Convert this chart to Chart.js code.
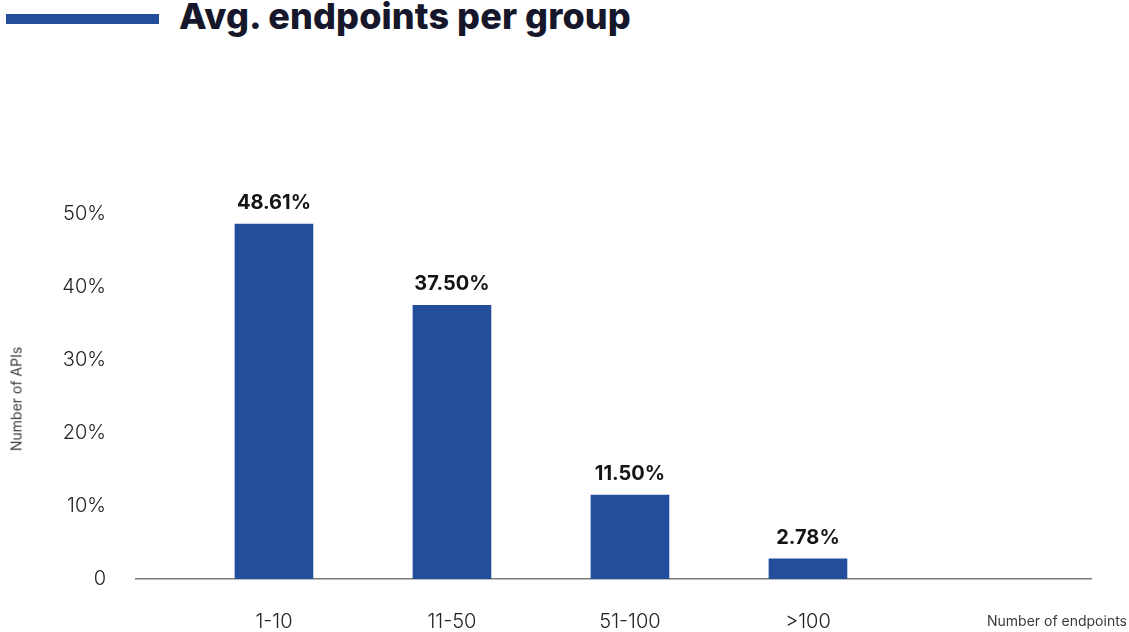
<!DOCTYPE html>
<html>
<head>
<meta charset="utf-8">
<script src="https://cdn.jsdelivr.net/npm/chart.js@4.4.1/dist/chart.umd.min.js"></script>
<style>
  html, body { margin: 0; padding: 0; background: #ffffff; }
  body { width: 1129px; height: 632px; position: relative; overflow: hidden; font-family: Inter, "Noto Sans", sans-serif; }
  #wrap { position: absolute; left: 0; top: 0; width: 1129px; height: 632px; }
  .rule { position: absolute; left: 6px; top: 14px; width: 153px; height: 10px; background: #234e9b; }
  h1 { position: absolute; left: 179px; top: -6px; margin: 0; font-family: Inter, sans-serif; font-weight: 800;
       font-size: 36px; letter-spacing: 0.1px; color: #17172b; white-space: nowrap; }
  .ytitle { position: absolute; left: 16px; top: 399px; transform: translate(-50%, -50%) rotate(-90deg);
            font-size: 14px; font-weight: 400; color: #3a3a3a; white-space: nowrap; }
  .xtitle { position: absolute; right: 2px; top: 612px; font-size: 14px; font-weight: 400; color: #3a3a3a; white-space: nowrap; }
</style>
</head>
<body>
<div class="rule"></div>
<h1>Avg. endpoints per group</h1>
<div id="wrap"><canvas id="chart" width="1129" height="632"></canvas></div>
<div class="ytitle">Number of APIs</div>
<div class="xtitle">Number of endpoints</div>
<script>
// Share of APIs by number of endpoints
const categories = ['1-10', '11-50', '51-100', '>100'];
const shares = [48.61, 37.50, 11.50, 2.78];
const yTicks = [0, 10, 20, 30, 40, 50];

const barColor = '#234e9b';

// Writes each bar's value just above it
const valueLabels = {
  id: 'valueLabels',
  afterDatasetsDraw(chart) {
    const ctx = chart.ctx;
    const meta = chart.getDatasetMeta(0);
    ctx.save();
    ctx.font = '700 20px Inter, sans-serif';
    ctx.fillStyle = '#141414';
    ctx.textAlign = 'center';
    ctx.textBaseline = 'middle';
    meta.data.forEach((bar, i) => {
      ctx.fillText(shares[i].toFixed(2) + '%', bar.x, bar.y - 21);
    });
    ctx.restore();
  }
};

new Chart(document.getElementById('chart'), {
  type: 'bar',
  data: {
    datasets: [{
      data: shares.map((v, i) => ({ x: i, y: v })),
      backgroundColor: barColor,
      borderWidth: 0,
      barThickness: 78
    }]
  },
  options: {
    responsive: false,
    animation: false,
    layout: { padding: { top: 141, right: 38, left: 0, bottom: 0 } },
    plugins: { legend: { display: false }, tooltip: { enabled: false } },
    scales: {
      x: {
        type: 'linear',
        offset: false,
        min: -0.775,
        max: 4.59,
        grid: { display: false, drawTicks: false },
        border: { display: true, color: '#7a7a7a', width: 1.5 },
        afterBuildTicks(scale) { scale.ticks = categories.map((c, i) => ({ value: i })); },
        afterFit(scale) { scale.height = 53; },
        ticks: {
          autoSkip: false,
          maxRotation: 0,
          padding: 31,
          color: '#222',
          font: { family: 'Inter, sans-serif', size: 20, weight: 300 },
          callback: (v) => categories[v]
        }
      },
      y: {
        min: 0,
        max: 60,
        grid: { display: false, drawTicks: false },
        border: { display: false },
        afterBuildTicks(scale) { scale.ticks = yTicks.map(v => ({ value: v })); },
        afterFit(scale) { scale.width = 136; },
        ticks: {
          padding: 30,
          color: '#222',
          font: { family: 'Inter, sans-serif', size: 20, weight: 300 },
          callback: (v) => v === 0 ? '0' : v + '%'
        }
      }
    }
  },
  plugins: [valueLabels]
});
</script>
</body>
</html>
